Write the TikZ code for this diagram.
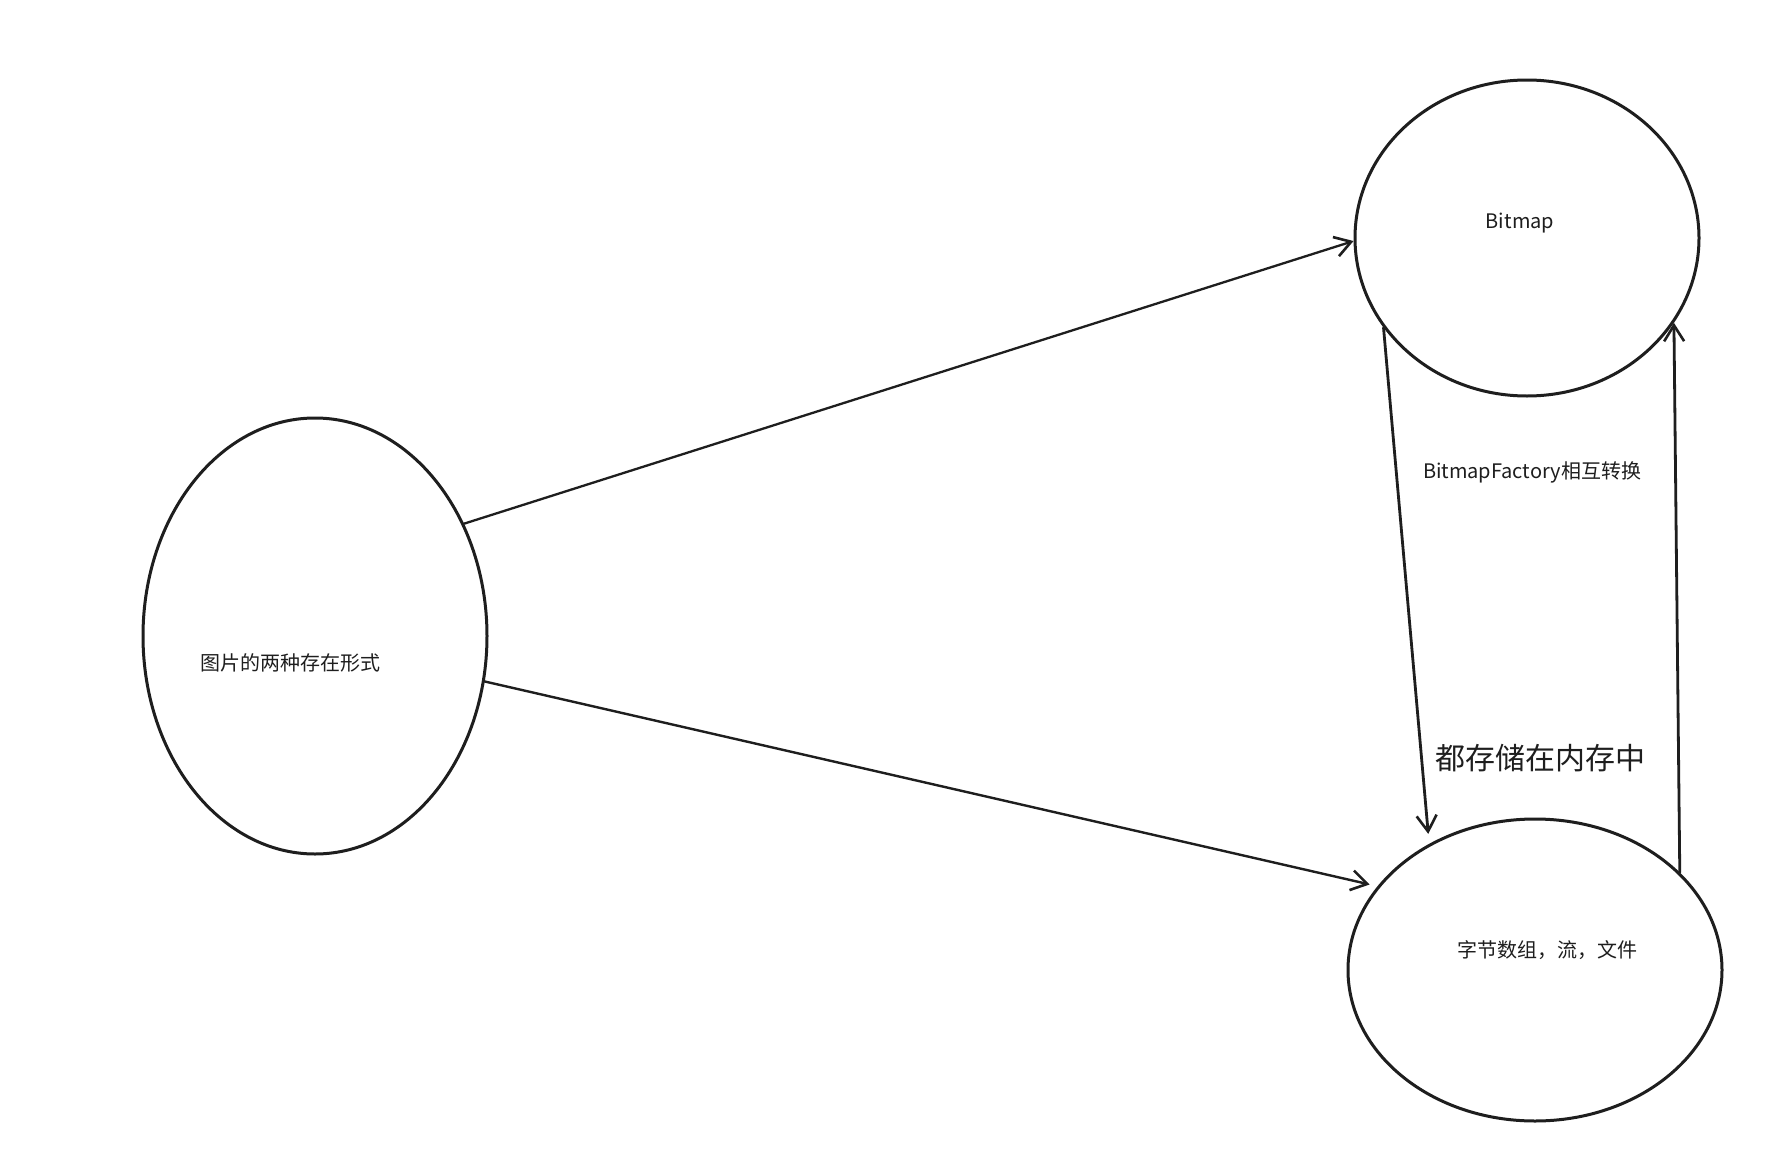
\documentclass[tikz,border=0pt]{standalone}
\usepackage{fontspec}
\setmainfont{Noto Sans CJK SC}
\usetikzlibrary{shapes.geometric,arrows.meta}
\definecolor{ink}{HTML}{1E1E1E}
\begin{document}
\begin{tikzpicture}[x=1pt,y=-1pt,
  blob/.style={draw=ink, line width=3pt, ellipse, inner sep=0pt},
  txt/.style={text=ink, inner sep=0pt, font=\fontsize{20}{24}\selectfont},
  bigtxt/.style={text=ink, inner sep=0pt, font=\fontsize{30}{36}\selectfont},
  conn/.style={draw=ink, line width=2.8pt, line cap=round,
    -{Straight Barb[length=16pt,width=20pt,line width=2.6pt]}}
]
\useasboundingbox[fill=white] (0,0) rectangle (1789,1167);

\node[blob, minimum width=344pt, minimum height=436pt] (src) at (315,636) {};
\node[blob, minimum width=344pt, minimum height=316pt] (bmp) at (1527,238) {};
\node[blob, minimum width=374pt, minimum height=302pt] (bytes) at (1535,970) {};

\node[txt] (srct) at (290,663) {图片的两种存在形式};
\node[txt] (bmpt) at (1520,223) {Bitmap};
\node[txt] (bytest) at (1547,950) {字节数组，流，文件};
\node[txt] (conv) at (1532,472) {BitmapFactory相互转换};
\node[bigtxt] (mem) at (1540,758) {都存储在内存中};

\draw[conn, line width=2.3pt] (src.37.5) -- (bmp.181);
\draw[conn, line width=2.4pt, shorten >=8pt] (src.-15) -- (bytes.152);
\draw[conn, shorten >=10pt] (bmp.212.6) -- (bytes.130.5);
\draw[conn] (bytes.34.8) -- (bmp.330.3);
\end{tikzpicture}
\end{document}
